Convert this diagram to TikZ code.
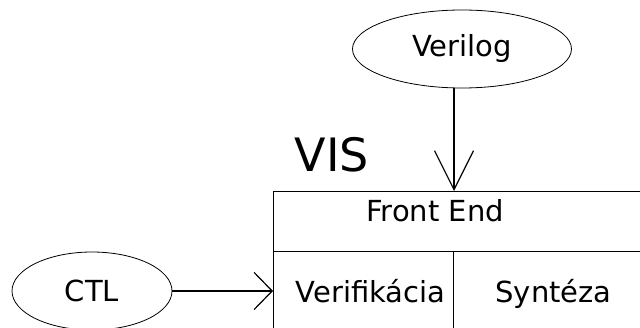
\documentclass[tikz,border=0pt]{standalone}
\usepackage{fontspec}
\setmainfont{DejaVu Sans}
\usepackage{tikz}
\usetikzlibrary{arrows.meta,shapes}
\tikzstyle{source}=[ellipse,draw,line width=0.8pt,inner sep=0pt,font=\fontsize{29}{32}\selectfont]
\tikzstyle{cell}=[rectangle,draw,line width=1.2pt,inner sep=0pt,anchor=north west,text height=21pt,text depth=6pt,font=\fontsize{29}{32}\selectfont]
\tikzstyle{edge} = [draw,line width=1.2pt]

\begin{document}
\begin{tikzpicture}[x=1pt,y=1pt]
    \useasboundingbox (0,0) rectangle (640,327);
    \clip (0,0) rectangle (640,327);
    % Draw the VIS block
    \node[cell,minimum width=380pt,minimum height=60pt] (fe) at (273,136) {};
    \node[cell,minimum width=180pt,minimum height=86pt] (verif) at (273,76) {\hspace{14pt}Verifikácia};
    \node[cell,minimum width=200pt,minimum height=86pt] (synt) at (453,76) {Syntéza};
    \node[font=\fontsize{29}{32}\selectfont] (fetext) at (435,116) {Front End};
    \node[font=\fontsize{46}{50}\selectfont] (vis) at (332,172) {VIS};
    % Then the inputs
    \node[source,minimum width=219pt,minimum height=78pt] (verilog) at (462,278) {Verilog};
    \node[source,minimum width=160pt,minimum height=78pt] (ctl) at (92,36) {CTL};
    % Connect inputs with the block
    \path[edge,-{Straight Barb[length=39pt,width=39pt]}] ([xshift=-8pt]verilog.south) -- ([xshift=-8pt]verilog.south |- fe.north);
    \path[edge,-{Straight Barb[length=18pt,width=37pt]}] (ctl.east) -- (ctl.east -| fe.west);
\end{tikzpicture}
\end{document}
